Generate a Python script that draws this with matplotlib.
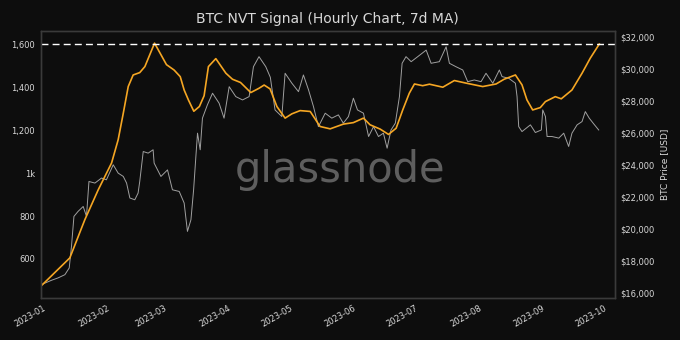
import numpy as np
import pandas as pd
import matplotlib
matplotlib.use("Agg")
import matplotlib.pyplot as plt
import matplotlib.dates as mdates
from matplotlib.ticker import FuncFormatter

# days since 2023-01-01 and values
nvt_days = [-2.8, 11, 18.3, 24.8, 31.3, 34.5, 37, 39.4, 41.8, 45, 47.5, 52.2,
            58, 61.7, 64.7, 66.6, 68.7, 71.3, 74, 76.3, 78.4, 82, 86.9, 90.1,
            94, 99, 103, 105.5, 108.4, 111.7, 115.7, 119, 123, 127.9, 132.7,
            137.6, 144, 148.9, 153.8, 157, 161.9, 166, 169.7, 172.9, 176.1,
            178.6, 182.6, 185.9, 192.4, 198, 203.7, 211.8, 218.3, 222.2,
            227.7, 230.9, 233.3, 236.1, 239.8, 242.3, 247.1, 250, 255.2,
            260.1, 264.1, 268.5]
nvt_vals = [476, 605, 783, 922, 1047, 1155, 1279, 1403, 1457, 1468, 1496, 1605,
            1505, 1480, 1449, 1387, 1340, 1288, 1310, 1360, 1496, 1533, 1465, 1437,
            1422, 1375, 1395, 1410, 1392, 1310, 1256, 1276, 1291, 1287, 1217,
            1206, 1228, 1235, 1256, 1225, 1205, 1180, 1209, 1294, 1372,
            1415, 1407, 1414, 1400, 1431, 1419, 1403, 1415, 1437,
            1457, 1411, 1341, 1294, 1305, 1333, 1356, 1346, 1387,
            1465, 1535, 1601]

price_days = [-2.8, 2.1, 5.3, 8.6, 10.7, 11.8, 13, 15, 17.5, 19.1, 20.3, 23.2,
              26.4, 28.8, 32.1, 34.5, 37, 38.6, 40.2, 42.6, 44.2, 45, 46.7,
              49.1, 51.5, 52, 55.3, 58.5, 60.9, 64.2, 66.6, 68.2, 69.9, 71.2,
              72.3, 73.1, 74.4, 75.5, 77.9, 80.4, 83.6, 86, 88.5, 91.7, 95,
              98.2, 100.3, 103, 106.3, 108.5, 110.8, 114.1, 115.7, 119, 122.2,
              124.6, 127.1, 129.5, 131.9, 135.2, 138.4, 141.6, 144, 146.5,
              148.9, 150.9, 153.8, 156.3, 158.7, 161.1, 163.5, 165.3, 167.2,
              169.3, 171.3, 172.6, 174.5, 177, 180.2, 184.3, 186.7, 190.7, 194,
              195.6, 198.8, 202.1, 204.5, 207.7, 211, 213.4, 216.7, 219.9,
              221.2, 224.5, 227.7, 228.5, 229.3, 230.9, 235, 237.4, 240.3,
              241, 242.3, 243.1, 245.5, 248.8, 251.2, 253.6, 255.2, 257.7,
              260.1, 261.7, 263.6, 265.8, 268.2]
price_vals = [16520, 16790, 16940, 17140, 17560, 18910, 20790, 21100, 21410, 20790, 22975, 22875,
              23190, 23080, 24020, 23500, 23290, 22875, 21940, 21830, 22250, 22975, 24850,
              24750, 24960, 24125, 23290, 23700, 22455, 22350, 21625, 19850, 20580, 22455,
              24540, 26000, 24960, 26940, 27770, 28500, 27875, 26940, 28910, 28290, 28080,
              28290, 30160, 30790, 30160, 29500, 27455, 27040, 29750, 29125, 28600,
              29645, 28705, 27660, 26410, 27250, 26940, 27145, 26625, 27040,
              28190, 27455, 27250, 25790, 26410, 25790, 26000, 25060, 26200,
              26625, 28290, 30375, 30790, 30475, 30790, 31200, 30375, 30475, 31410,
              30375, 30160, 29955, 29225, 29330, 29225, 29750, 29125, 29955,
              29540, 29435, 29125, 28290, 26410, 26100, 26520, 26040, 26200,
              27455, 27040, 25790, 25790, 25690, 26000, 25165, 26000, 26520,
              26725, 27350, 26940, 26580, 26200]

bg = '#0d0d0d'
txt = '#d8d8d8'
start = pd.Timestamp('2023-01-01')
nvt_x = start + pd.to_timedelta(nvt_days, unit='D')
price_x = start + pd.to_timedelta(price_days, unit='D')

fig = plt.figure(figsize=(6.8, 3.4), dpi=100, facecolor=bg)
ax = fig.add_axes([0.0596, 0.124, 0.8444, 0.785])
ax2 = ax.twinx()
ax.set_zorder(ax2.get_zorder() + 1)
ax.patch.set_visible(False)
ax2.set_facecolor(bg)

ax2.plot(price_x, price_vals, color='#a0a0a0', lw=0.7)
ax.plot(nvt_x, nvt_vals, color='#f5a623', lw=1.2)
ax.axhline(1600, color='white', lw=1, linestyle=(0, (5, 3)))

ax.set_ylim(419, 1662)
ax2.set_ylim(15690, 32400)
ax.set_xlim(pd.Timestamp('2022-12-28 18:00'), pd.Timestamp('2023-10-04'))

ax.set_yticks([600, 800, 1000, 1200, 1400, 1600])
ax.yaxis.set_major_formatter(FuncFormatter(lambda v, p: '1k' if v == 1000 else f'{v:,.0f}'))
ax2.set_yticks(np.arange(16000, 32001, 2000))
ax2.yaxis.set_major_formatter(FuncFormatter(lambda v, p: f'${v:,.0f}'))
ax.xaxis.set_major_locator(mdates.MonthLocator())
ax.xaxis.set_major_formatter(mdates.DateFormatter('%Y-%m'))
plt.setp(ax.get_xticklabels(), rotation=30, ha='right')

for a in (ax, ax2):
    a.tick_params(colors=txt, labelsize=6, length=0, pad=4)
    for s in a.spines.values():
        s.set_color('#3a3a3a')
        s.set_linewidth(1)

ax2.set_ylabel('BTC Price [USD]', color=txt, fontsize=6.5, labelpad=4)
ax.set_title('BTC NVT Signal (Hourly Chart, 7d MA)', color=txt, fontsize=10, pad=6)

fig.text(0.5, 0.5, 'glassnode', color='#5e5e5e', fontsize=30, ha='center', va='center')

fig.savefig('out.png', facecolor=bg)
